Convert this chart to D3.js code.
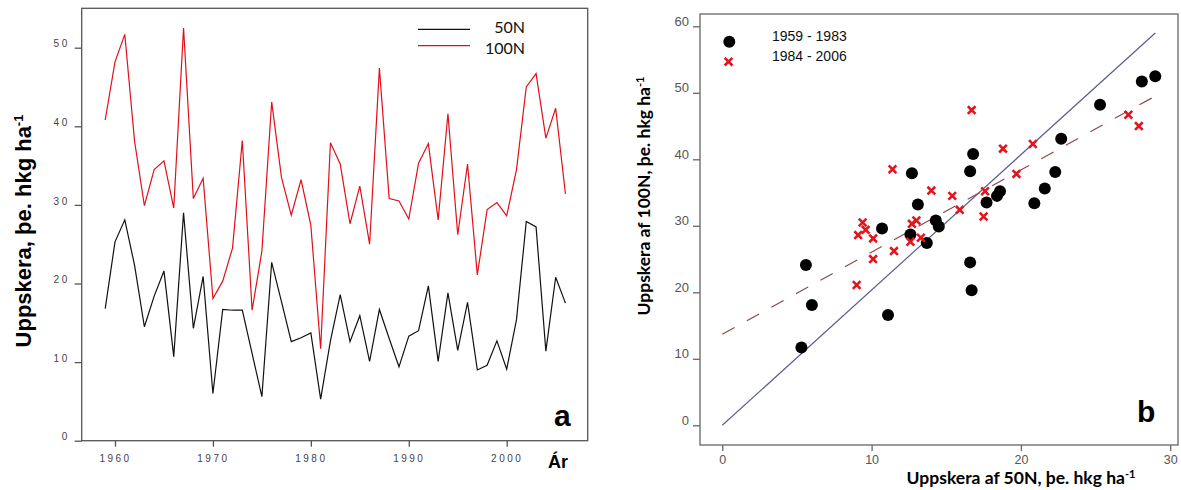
<!DOCTYPE html>
<meta charset="utf-8">
<script src="https://d3js.org/d3.v7.min.js"></script>
<style>
  body { margin: 0; background: #fff; }
</style>
<div id="my_dataviz"></div>
<script>
// yearly yields (hkg/ha)
var years = [1959, 1960, 1961, 1962, 1963, 1964, 1965, 1966, 1967, 1968, 1969, 1970,
             1971, 1972, 1973, 1974, 1975, 1976, 1977, 1978, 1979, 1980, 1981, 1982,
             1983, 1984, 1985, 1986, 1987, 1988, 1989, 1990, 1991, 1992, 1993, 1994,
             1995, 1996, 1997, 1998, 1999, 2000, 2001, 2002, 2003, 2004, 2005, 2006];
var yield50 = [16.8, 25.3, 28.1, 22.3, 14.5, 18.4, 21.6, 10.7, 29.0, 14.3, 20.9, 6.0,
               16.7, 16.6, 16.6, 11.1, 5.6, 22.7, 17.7, 12.6, 13.1, 13.7, 5.3, 12.7,
               18.6, 12.6, 15.9, 10.1, 16.7, 13.0, 9.4, 13.3, 14.0, 19.7, 10.1, 18.8,
               11.5, 17.6, 9.0, 9.6, 12.7, 9.1, 15.4, 27.9, 27.2, 11.4, 20.8, 17.5];
var yield100 = [40.8, 48.2, 51.7, 38.1, 29.9, 34.5, 35.6, 29.6, 52.5, 30.8, 33.4, 18.1,
                20.3, 24.5, 38.2, 16.6, 24.1, 43.1, 33.5, 28.7, 33.2, 27.4, 11.7, 37.9,
                35.2, 27.6, 32.4, 25.0, 47.4, 30.8, 30.5, 28.2, 35.3, 37.8, 28.1, 41.6,
                26.2, 35.2, 21.1, 29.4, 30.3, 28.6, 34.5, 45.0, 46.7, 38.5, 42.3, 31.4];
var seriesNames = ["50N", "100N"];
var periods = ["1959 - 1983", "1984 - 2006"];
var lastEarlyYear = 1983;

// fitted lines in panel b, [x, y] end points
var fitAll = [[0, 0], [29, 59]];
var fitLate = [[0, 13.7], [29, 49.5]];

var yearTicks = [1960, 1970, 1980, 1990, 2000];
var yTicksA = [0, 10, 20, 30, 40, 50];
var xTicksB = [0, 10, 20, 30];
var yTicksB = [0, 10, 20, 30, 40, 50, 60];

var svg = d3.select("#my_dataviz")
  .append("svg")
    .attr("width", 1181)
    .attr("height", 490)
    .style("font-family", "'Liberation Sans', Arial, sans-serif");

// ---------- panel a ----------
var xa = d3.scaleLinear().domain([1960, 2000]).range([115, 506.7]);
var ya = d3.scaleLinear().domain([0, 50]).range([440.7, 47.7]);

var gya = svg.append("g")
    .attr("transform", "translate(81.7,0)")
    .call(d3.axisLeft(ya).tickValues(yTicksA).tickSize(7).tickPadding(5).tickSizeOuter(0));
gya.select(".domain").remove();
gya.selectAll("line").attr("stroke", "#555").attr("stroke-width", 1.3);
gya.selectAll("text")
    .attr("transform", "translate(0,-4)")
    .style("font-size", "10px").style("letter-spacing", "2.5px").attr("fill", "#444");

var gxa = svg.append("g")
    .attr("transform", "translate(0,440.7)")
    .call(d3.axisBottom(xa).tickValues(yearTicks).tickFormat(d3.format("d")).tickSize(6).tickPadding(8).tickSizeOuter(0));
gxa.select(".domain").remove();
gxa.selectAll("line").attr("stroke", "#555").attr("stroke-width", 1.3);
gxa.selectAll("text")
    .style("font-size", "10px").style("letter-spacing", "2.5px").attr("fill", "#444");

svg.append("rect")
    .attr("x", 81.7).attr("y", 8.3)
    .attr("width", 506).attr("height", 432.4)
    .attr("fill", "none").attr("stroke", "#555").attr("stroke-width", 1.3);

var lineA = function(vals) {
  return d3.line()
    .x(function(d, i) { return xa(years[i]); })
    .y(function(d) { return ya(d); })(vals);
};
svg.append("path").attr("d", lineA(yield50))
    .attr("fill", "none").attr("stroke", "#111").attr("stroke-width", 1.2);
svg.append("path").attr("d", lineA(yield100))
    .attr("fill", "none").attr("stroke", "#e0101a").attr("stroke-width", 1.2);

// legend a
var legA = svg.append("g").attr("font-family", "Lato, sans-serif").attr("font-size", "16px");
[["#111", 29.3, 33], ["#e0101a", 45.7, 54]].forEach(function(s, i) {
  legA.append("line").attr("x1", 418).attr("x2", 470).attr("y1", s[1]).attr("y2", s[1])
      .attr("stroke", s[0]).attr("stroke-width", 1.2);
  legA.append("text").attr("x", 525).attr("y", s[2]).attr("text-anchor", "end")
      .attr("fill", "#111").text(seriesNames[i]);
});

svg.append("text").attr("x", 554).attr("y", 426)
    .style("font-size", "30px").style("font-weight", "bold").text("a");
svg.append("text").attr("x", 548).attr("y", 468)
    .style("font-size", "18px").style("font-weight", "bold").text("Ár");

var labA = svg.append("text")
    .attr("transform", "translate(31,231) rotate(-90)")
    .attr("text-anchor", "middle")
    .style("font-size", "22px").style("font-weight", "bold");
labA.append("tspan").text("Uppskera, þe. hkg ha");
labA.append("tspan").attr("dy", "-0.6em").style("font-size", "13px").text("-1");

// ---------- panel b ----------
var xb = d3.scaleLinear().domain([0, 30]).range([722.3, 1170.2]);
var yb = d3.scaleLinear().domain([0, 60]).range([425.3, 26.3]);

var gyb = svg.append("g")
    .attr("transform", "translate(700,0)")
    .call(d3.axisLeft(yb).tickValues(yTicksB).tickSize(7).tickPadding(4).tickSizeOuter(0));
gyb.select(".domain").remove();
gyb.selectAll("line").attr("stroke", "#666").attr("stroke-width", 1.3);
gyb.selectAll("text")
    .attr("transform", "translate(0,-5)")
    .style("font-size", "13px").attr("fill", "#555");

var gxb = svg.append("g")
    .attr("transform", "translate(0,445)")
    .call(d3.axisBottom(xb).tickValues(xTicksB).tickSize(6).tickPadding(4).tickSizeOuter(0));
gxb.select(".domain").remove();
gxb.selectAll("line").attr("stroke", "#666").attr("stroke-width", 1.3);
gxb.selectAll("text").style("font-size", "12.5px").attr("fill", "#555");

svg.append("rect")
    .attr("x", 700).attr("y", 14)
    .attr("width", 478).attr("height", 431)
    .attr("fill", "none").attr("stroke", "#666").attr("stroke-width", 1.3);

var fitLine = d3.line().x(function(d) { return xb(d[0]); }).y(function(d) { return yb(d[1]); });
svg.append("path").attr("d", fitLine(fitAll))
    .attr("fill", "none").attr("stroke", "#5c5c90").attr("stroke-width", 1.2);
svg.append("path").attr("d", fitLine(fitLate))
    .attr("fill", "none").attr("stroke", "#8a4a4a").attr("stroke-width", 1.2)
    .attr("stroke-dasharray", "14,14");

var pairs = years.map(function(y, i) { return {year: y, x: yield50[i], y: yield100[i]}; });
var early = pairs.filter(function(d) { return d.year <= lastEarlyYear; });
var late = pairs.filter(function(d) { return d.year > lastEarlyYear; });

var cross = d3.symbol().type(d3.symbolX).size(40);

svg.selectAll("circle.early")
  .data(early)
  .enter()
  .append("circle")
    .attr("class", "early")
    .attr("cx", function(d) { return xb(d.x); })
    .attr("cy", function(d) { return yb(d.y); })
    .attr("r", 6)
    .attr("fill", "#000");

svg.selectAll("path.late")
  .data(late)
  .enter()
  .append("path")
    .attr("class", "late")
    .attr("d", cross)
    .attr("transform", function(d) { return "translate(" + xb(d.x) + "," + yb(d.y) + ")"; })
    .attr("fill", "none")
    .attr("stroke", "#e3141c")
    .attr("stroke-width", 2.6);

// legend b
svg.append("circle").attr("cx", 729.3).attr("cy", 41.7).attr("r", 6).attr("fill", "#000");
svg.append("path").attr("d", cross).attr("transform", "translate(728.5,61.7)")
    .attr("fill", "none").attr("stroke", "#e3141c").attr("stroke-width", 2.6);
svg.append("text").attr("x", 772).attr("y", 41).style("font-size", "14px").attr("fill", "#111").text(periods[0]);
svg.append("text").attr("x", 772).attr("y", 61).style("font-size", "14px").attr("fill", "#111").text(periods[1]);

svg.append("text").attr("x", 1137).attr("y", 422)
    .style("font-size", "30px").style("font-weight", "bold").text("b");

var labBx = svg.append("text")
    .attr("x", 1021).attr("y", 484)
    .attr("text-anchor", "middle")
    .attr("font-family", "Lato, sans-serif")
    .style("font-size", "17.5px").style("font-weight", "bold");
labBx.append("tspan").text("Uppskera af 50N, þe. hkg ha");
labBx.append("tspan").attr("dy", "-0.55em").style("font-size", "11px").text("-1");

var labBy = svg.append("text")
    .attr("transform", "translate(650,196) rotate(-90)")
    .attr("text-anchor", "middle")
    .attr("font-family", "Lato, sans-serif")
    .style("font-size", "17.5px").style("font-weight", "bold");
labBy.append("tspan").text("Uppskera af 100N, þe. hkg ha");
labBy.append("tspan").attr("dy", "-0.55em").style("font-size", "11px").text("-1");
</script>
